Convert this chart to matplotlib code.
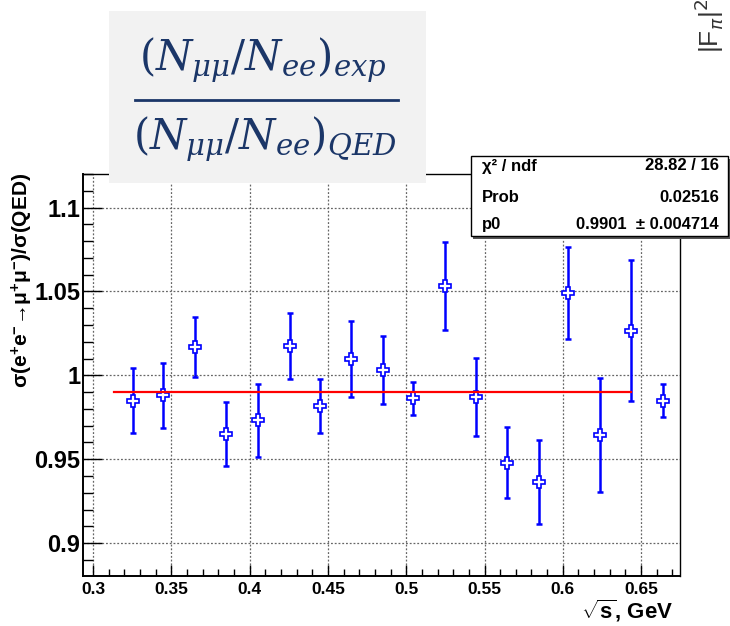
import matplotlib
matplotlib.use('Agg')
import matplotlib.pyplot as plt
from matplotlib.patches import Rectangle
from matplotlib.lines import Line2D
from matplotlib.ticker import MultipleLocator

# points of the ratio sigma(ee->mumu)/sigma(QED)
sqrt_s = [0.3255, 0.345, 0.365, 0.385, 0.4055, 0.4255, 0.445, 0.465, 0.485,
          0.5045, 0.525, 0.5445, 0.5645, 0.5845, 0.6035, 0.624, 0.6435, 0.664]
ratio = [0.985, 0.988, 1.0167, 0.9648, 0.9732, 1.0175, 0.9819, 1.0097, 1.0032,
         0.9863, 1.0534, 0.9869, 0.9479, 0.9366, 1.0489, 0.9644, 1.0266, 0.9849]
ratio_err = [0.0194, 0.0193, 0.0178, 0.0191, 0.0217, 0.0196, 0.0162, 0.0224, 0.0204,
             0.0097, 0.0261, 0.0232, 0.0212, 0.025, 0.0275, 0.0339, 0.042, 0.0098]

fit_p0 = 0.9901
fit_range = [0.3135, 0.6435]

x_ticks = [0.3, 0.35, 0.4, 0.45, 0.5, 0.55, 0.6, 0.65]
x_ticklabels = ['0.3', '0.35', '0.4', '0.45', '0.5', '0.55', '0.6', '0.65']
y_ticks = [0.9, 0.95, 1.0, 1.05, 1.1]
y_ticklabels = ['0.9', '0.95', '1', '1.05', '1.1']

stats_rows = [('χ² / ndf', '28.82 / 16'),
              ('Prob', '0.02516'),
              ('p0', '0.9901  ± 0.004714')]

plt.rcParams['font.family'] = ['Liberation Sans', 'DejaVu Sans']
plt.rcParams['mathtext.fontset'] = 'custom'
plt.rcParams['mathtext.rm'] = 'Liberation Sans:bold'
plt.rcParams['mathtext.it'] = 'Liberation Sans:italic:bold'
plt.rcParams['mathtext.bf'] = 'Liberation Sans:bold'

W, H = 730, 626


def fx(px):
    return px / W


def fy(py):
    return 1 - py / H


fig = plt.figure(figsize=(7.3, 6.26), dpi=100)
ax = fig.add_axes([fx(83), fy(576), (680 - 83) / W, (576 - 174) / H])

ax.errorbar(sqrt_s, ratio, yerr=ratio_err, fmt='none', ecolor='#0000ff',
            elinewidth=1.8, capsize=2.5, capthick=1.8, zorder=2)
ax.plot(sqrt_s, ratio, linestyle='none', marker='P', ms=9, mfc='white',
        mec='#0000ff', mew=1.2, zorder=3)
ax.plot(fit_range, [fit_p0, fit_p0], color='#ff0000', lw=1.6, zorder=4)

ax.set_xlim(0.29361, 0.67484)
ax.set_ylim(0.8804, 1.12)
ax.set_xticks(x_ticks)
ax.set_xticklabels(x_ticklabels, fontsize=12.5, fontweight='bold')
ax.set_yticks(y_ticks)
ax.set_yticklabels(y_ticklabels, fontsize=17, fontweight='bold')
ax.xaxis.set_minor_locator(MultipleLocator(0.01))
ax.yaxis.set_minor_locator(MultipleLocator(0.01))
ax.tick_params(axis='x', which='major', direction='in', length=8, width=1, pad=4)
ax.tick_params(axis='x', which='minor', direction='in', length=5, width=1)
ax.tick_params(axis='y', which='major', direction='in', length=14, width=1, pad=2)
ax.tick_params(axis='y', which='minor', direction='in', length=7, width=1)
ax.grid(True, which='major', color='#666666', linestyle=(0, (1.5, 1.5)), lw=0.9)
for side in ['left', 'bottom']:
    ax.spines[side].set_linewidth(1.4)
for side in ['right', 'top']:
    ax.spines[side].set_linewidth(1.0)

fig.text(fx(22), fy(280), 'σ(e$^{+}$e$^{-}$→μ$^{+}$μ$^{-}$)/σ(QED)', rotation=90,
         ha='center', va='center', fontsize=15, fontweight='bold')
fig.text(fx(673), fy(619), r'$\sqrt{\mathrm{s}}$, GeV', ha='right', va='baseline',
         fontsize=16, fontweight='bold')

# formula box pasted over the frame
fig.add_artist(Rectangle((fx(109), fy(183)), (426 - 109) / W, (183 - 11) / H,
                         transform=fig.transFigure, facecolor='#f2f2f2',
                         edgecolor='none', zorder=5))
navy = '#1b3668'
fig.text(fx(263), fy(70), r'$\left(N_{\mu\mu}/N_{ee}\right)_{exp}$', ha='center',
         va='baseline', fontsize=30, color=navy, math_fontfamily='dejavuserif', zorder=6)
fig.text(fx(265), fy(149), r'$\left(N_{\mu\mu}/N_{ee}\right)_{QED}$', ha='center',
         va='baseline', fontsize=30, color=navy, math_fontfamily='dejavuserif', zorder=6)
fig.add_artist(Line2D([fx(135), fx(398)], [fy(100), fy(100)], transform=fig.transFigure,
                      color=navy, lw=2, zorder=6))

# fit statistics box
fig.add_artist(Rectangle((fx(473), fy(238.5)), (728 - 471) / W, (236 - 156) / H,
                         transform=fig.transFigure, facecolor='#555555',
                         edgecolor='none', zorder=5))
fig.add_artist(Rectangle((fx(471), fy(236)), (728 - 471) / W, (236 - 156) / H,
                         transform=fig.transFigure, facecolor='white',
                         edgecolor='black', lw=1.0, zorder=6))
row_y = [166, 198, 225]
for (name, val), ry in zip(stats_rows, row_y):
    fig.text(fx(482), fy(ry), name, ha='left', va='center', fontsize=12,
             fontweight='bold', zorder=7)
    fig.text(fx(719), fy(ry), val, ha='right', va='center', fontsize=12,
             fontweight='bold', zorder=7)

# label of the neighbouring plot, cut by the edge
fig.text(fx(692), fy(53), r'|F$_{\pi}$|$^{2}$', rotation=90, ha='left', va='bottom',
         fontsize=19, color='#333333', math_fontfamily='dejavusans')

fig.savefig('out.png', dpi=100)
